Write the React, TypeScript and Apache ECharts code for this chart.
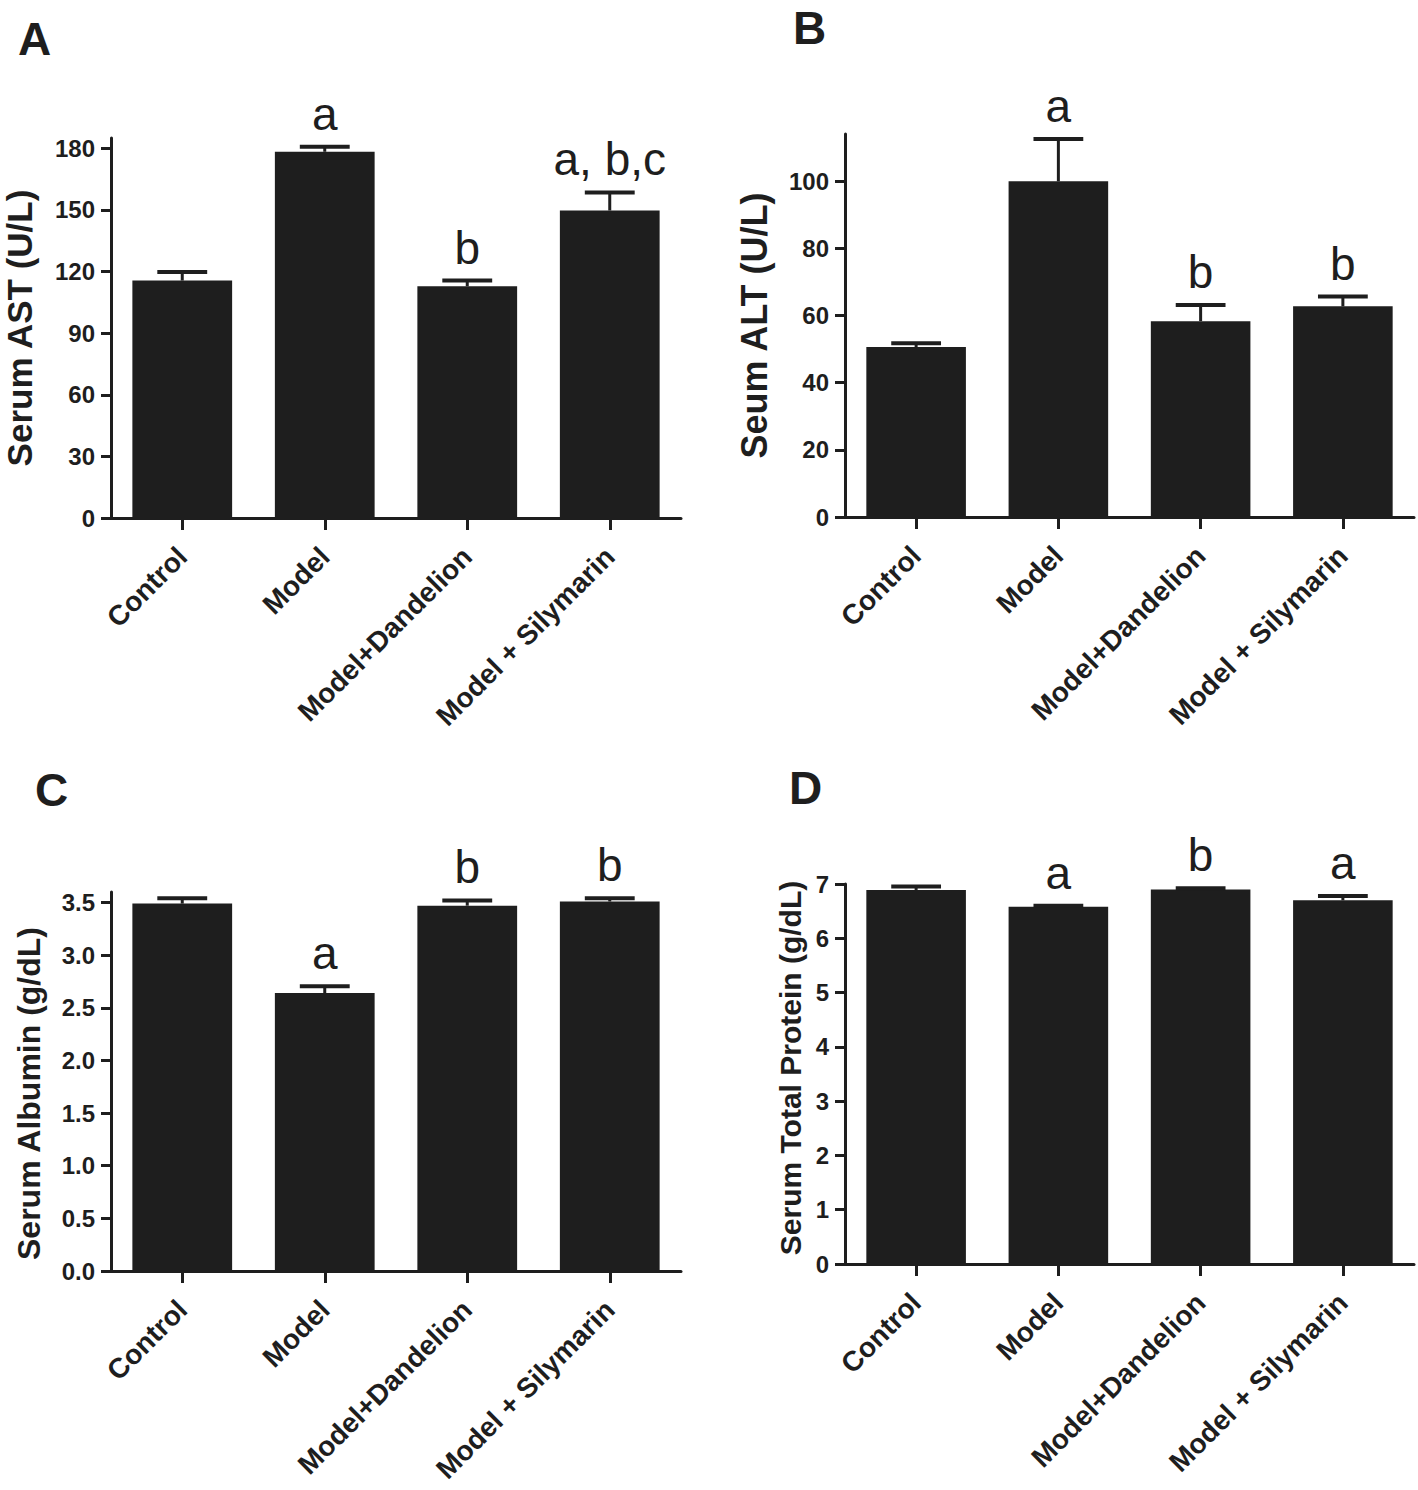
import React, { useEffect, useRef } from 'react';
import * as echarts from 'echarts';

const categories = ['Control', 'Model', 'Model+Dandelion', 'Model + Silymarin'];

const astMean = [115.6, 178.3, 112.8, 149.7];
const astSem = [4.2, 2.5, 2.8, 8.8];
const astLetters = ['', 'a', 'b', 'a, b,c'];
const astTicks = [0, 30, 60, 90, 120, 150, 180];

const altMean = [50.6, 99.9, 58.3, 62.7];
const altSem = [1.1, 12.6, 4.8, 2.9];
const altLetters = ['', 'a', 'b', 'b'];
const altTicks = [0, 20, 40, 60, 80, 100];

const albMean = [3.49, 2.64, 3.47, 3.51];
const albSem = [0.05, 0.065, 0.05, 0.03];
const albLetters = ['', 'a', 'b', 'b'];
const albTicks = [0, 0.5, 1.0, 1.5, 2.0, 2.5, 3.0, 3.5];

const tpMean = [6.89, 6.58, 6.9, 6.7];
const tpSem = [0.065, 0.02, 0.02, 0.08];
const tpLetters = ['', 'a', 'b', 'a'];
const tpTicks = [0, 1, 2, 3, 4, 5, 6, 7];

const panelLetters = ['A', 'B', 'C', 'D'];
const yNames = ['Serum AST (U/L)', 'Seum ALT (U/L)', 'Serum Albumin (g/dL)', 'Serum Total Protein (g/dL)'];

const FONT = "'Liberation Sans', Arial, Helvetica, sans-serif";
const INK = '#1e1e1e';

export default function App() {
  const ref = useRef<HTMLDivElement>(null);
  useEffect(() => {
    if (!ref.current) return;
    const chart = echarts.init(ref.current, null, { renderer: 'svg' });

    const panels = [
      { mean: astMean, sem: astSem, letters: astLetters, ticks: astTicks, max: 185, interval: 30, dec: 0,
        grid: { left: 111, top: 138, width: 570, height: 380 }, nameSize: 35, nameGap: 74, namePad: [0, 0, 0, 0],
        letterPos: [18, 16] },
      { mean: altMean, sem: altSem, letters: altLetters, ticks: altTicks, max: 114, interval: 20, dec: 0,
        grid: { left: 845, top: 134, width: 569, height: 383 }, nameSize: 36, nameGap: 73, namePad: [0, 0, 0, 0],
        letterPos: [793, 5] },
      { mean: albMean, sem: albSem, letters: albLetters, ticks: albTicks, max: 3.6, interval: 0.5, dec: 1,
        grid: { left: 111, top: 892, width: 570, height: 379 }, nameSize: 32, nameGap: 66, namePad: [0, 24, 0, 0],
        letterPos: [35, 767] },
      { mean: tpMean, sem: tpSem, letters: tpLetters, ticks: tpTicks, max: 7, interval: 1, dec: 0,
        grid: { left: 845, top: 884, width: 569, height: 380 }, nameSize: 30, nameGap: 40, namePad: [0, 0, 0, 12],
        letterPos: [789, 765] },
    ];

    const grid: any[] = [];
    const xAxis: any[] = [];
    const yAxis: any[] = [];
    const series: any[] = [];
    const graphic: any[] = [];

    panels.forEach((p, k) => {
      grid.push({ ...p.grid, containLabel: false });
      xAxis.push({
        type: 'category',
        gridIndex: k,
        data: categories,
        axisLine: { show: true, lineStyle: { color: INK, width: 3 } },
        axisTick: { show: true, alignWithLabel: true, length: 12, lineStyle: { color: INK, width: 3 } },
        axisLabel: {
          rotate: 45, margin: 34, color: INK, fontFamily: FONT, fontWeight: 'bold', fontSize: 28, interval: 0,
        },
        splitLine: { show: false },
      });
      yAxis.push({
        type: 'value',
        gridIndex: k,
        min: 0,
        max: p.max,
        interval: p.interval,
        name: yNames[k],
        nameLocation: 'middle',
        nameGap: p.nameGap,
        nameRotate: 90,
        nameTextStyle: { color: INK, fontFamily: FONT, fontWeight: 'bold', fontSize: p.nameSize, padding: p.namePad },
        axisLine: { show: true, lineStyle: { color: INK, width: 3 } },
        axisTick: { show: true, length: 10, lineStyle: { color: INK, width: 3 }, customValues: p.ticks },
        axisLabel: {
          color: INK, fontFamily: FONT, fontWeight: 'bold', fontSize: 24, margin: 16,
          customValues: p.ticks,
          formatter: (v: number) => (p.dec ? v.toFixed(p.dec) : String(Math.round(v))),
        },
        splitLine: { show: false },
      });
      series.push({
        type: 'bar',
        xAxisIndex: k,
        yAxisIndex: k,
        data: p.mean,
        barWidth: '70%',
        itemStyle: { color: INK },
        silent: true,
      });
      const errData = p.mean.map((m, i) => [i, m, m + p.sem[i]]);
      const letters = p.letters;
      series.push({
        type: 'custom',
        xAxisIndex: k,
        yAxisIndex: k,
        data: errData,
        clip: false,
        z: 5,
        renderItem: (params: any, api: any) => {
          const i = api.value(0);
          const base = api.coord([i, api.value(1)]);
          const top = api.coord([i, api.value(2)]);
          const bw = api.size([1, 0])[0] * 0.7;
          const half = bw * 0.25;
          const children: any[] = [
            { type: 'line', shape: { x1: base[0], y1: base[1], x2: top[0], y2: top[1] },
              style: { stroke: INK, lineWidth: 3 } },
            { type: 'line', shape: { x1: top[0] - half, y1: top[1], x2: top[0] + half, y2: top[1] },
              style: { stroke: INK, lineWidth: 4 } },
          ];
          const lab = letters[params.dataIndex];
          if (lab) {
            children.push({
              type: 'text', x: top[0], y: top[1] - 10,
              style: { text: lab, fill: INK, font: `46px ${FONT}`, align: 'center', verticalAlign: 'bottom',
                textAlign: 'center', textVerticalAlign: 'bottom' },
            });
          }
          return { type: 'group', children };
        },
      });
      graphic.push({
        type: 'text', left: p.letterPos[0], top: p.letterPos[1],
        style: { text: panelLetters[k], fill: INK, font: `bold 46px ${FONT}` },
      });
    });

    chart.setOption({
      animation: false,
      backgroundColor: '#ffffff',
      grid, xAxis, yAxis, series, graphic,
    });
    return () => chart.dispose();
  }, []);

  return (
    <div ref={ref} style={{ position: 'absolute', left: 0, top: 0, width: 1418, height: 1490 }} />
  );
}
